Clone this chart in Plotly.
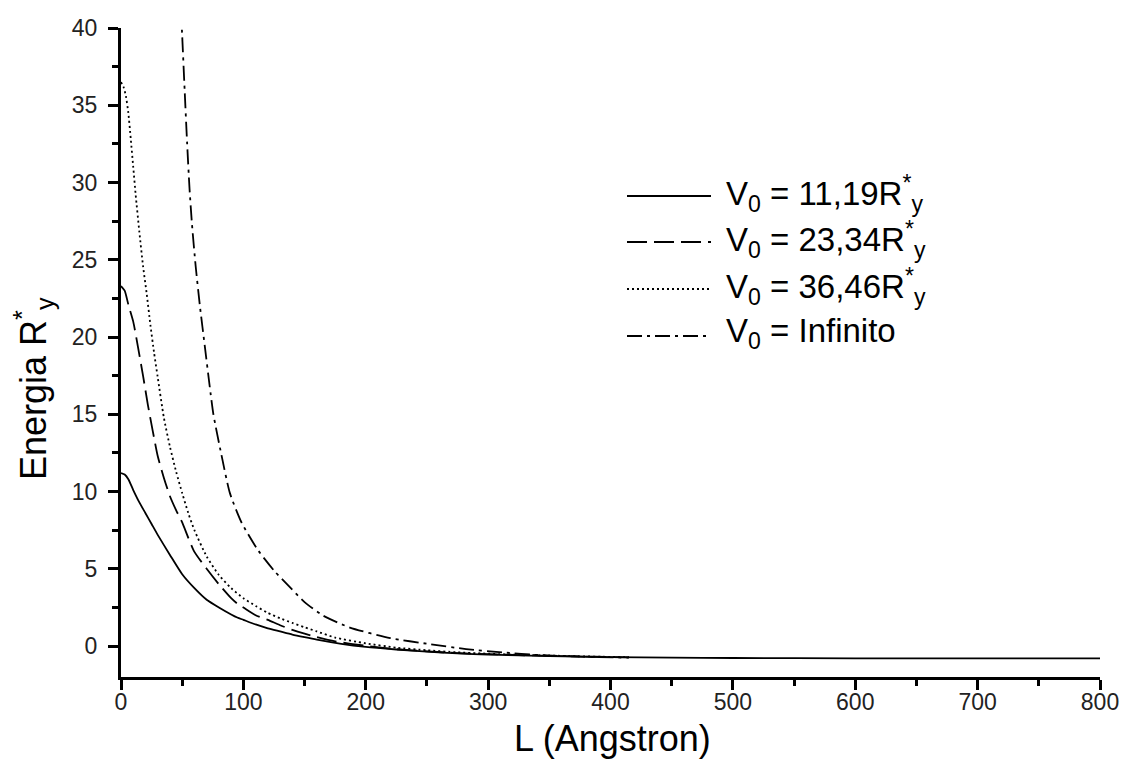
import plotly.graph_objects as go

# ---- data ----
L_v1119 = [0, 3, 6, 10, 15, 20, 25, 30, 40, 50, 60, 70, 80, 90, 95, 100, 110, 120, 130, 140,
           150, 160, 180, 200, 225, 250, 275, 300, 350, 400, 450, 500, 600, 700, 800]
E_v1119 = [11.2, 11.1, 10.8, 10.1, 9.3, 8.6, 7.9, 7.2, 5.9, 4.65, 3.75, 3.0, 2.5, 2.05, 1.85, 1.7,
           1.4, 1.15, 0.95, 0.75, 0.58, 0.42, 0.15, -0.05, -0.22, -0.36, -0.47, -0.55, -0.65,
           -0.71, -0.75, -0.77, -0.79, -0.8, -0.8]

L_v2334 = [0, 3, 6, 10, 14, 18, 22, 26, 30, 35, 40, 45, 50, 55, 60, 70, 80, 90, 95, 100, 110,
           120, 130, 140, 150, 160, 175, 200, 225, 250, 275, 300, 325, 350, 375, 400, 415]
E_v2334 = [23.3, 23.0, 22.1, 21.0, 19.3, 17.5, 15.6, 13.9, 12.3, 10.9, 9.7, 8.8, 8.0, 7.0, 6.1,
           5.0, 4.0, 3.1, 2.75, 2.5, 2.0, 1.7, 1.35, 1.05, 0.8, 0.58, 0.3, 0.02, -0.2, -0.34,
           -0.45, -0.52, -0.58, -0.63, -0.67, -0.71, -0.73]

L_v3646 = [0, 2, 4, 6, 8, 10, 12, 15, 18, 21, 24, 27, 30, 35, 40, 45, 50, 55, 60, 70, 80, 90,
           100, 110, 120, 130, 140, 150, 160, 175, 200, 225, 250, 275, 300, 325, 350, 375, 400, 415]
E_v3646 = [36.5, 36.2, 35.6, 34.5, 32.8, 31.0, 29.2, 26.8, 24.6, 22.8, 20.8, 19.0, 17.4, 14.8,
           12.9, 11.3, 9.9, 8.6, 7.5, 5.8, 4.6, 3.75, 3.1, 2.6, 2.15, 1.8, 1.5, 1.22, 0.95, 0.55,
           0.18, -0.1, -0.27, -0.4, -0.49, -0.56, -0.61, -0.66, -0.7, -0.72]

L_inf = [48, 50, 52, 54, 56, 58, 61, 64.5, 68.5, 72.5, 75.5, 82, 89, 98.5, 112, 126, 137, 150,
         165, 187, 220, 252, 282, 312, 342, 375, 415]
E_inf = [43, 39.5, 36.0, 32.6, 29.6, 27.3, 24.6, 22.0, 19.4, 16.8, 15.0, 12.4, 9.9, 8.0, 6.2,
         4.8, 3.9, 2.85, 1.98, 1.2, 0.52, 0.13, -0.19, -0.41, -0.58, -0.68, -0.75]

series_names = ["V<sub>0</sub> = 11,19R<sup>*</sup><sub>y</sub>",
                "V<sub>0</sub> = 23,34R<sup>*</sup><sub>y</sub>",
                "V<sub>0</sub> = 36,46R<sup>*</sup><sub>y</sub>",
                "V<sub>0</sub> = Infinito"]
series_dash = ["solid", "20px,7px", "2px,3px", "15px,5px,3px,5px"]

x_ticks = [0, 100, 200, 300, 400, 500, 600, 700, 800]
y_ticks = [0, 5, 10, 15, 20, 25, 30, 35, 40]
x_title = "L (Angstron)"
y_title = "Energia R<sup>*</sup><sub>y</sub>"

FONT = "Liberation Sans, Arial, sans-serif"

fig = go.Figure()
for xs, ys, name, dash in zip([L_v1119, L_v2334, L_v3646, L_inf],
                              [E_v1119, E_v2334, E_v3646, E_inf],
                              series_names, series_dash):
    fig.add_trace(go.Scatter(x=xs, y=ys, mode="lines", name=name, showlegend=False,
                             line=dict(color="black", width=1.8, dash=dash,
                                       shape="spline", smoothing=0.6)))

# manual legend (long line samples as in the reference)
plot_l, plot_r, plot_t, plot_b = 121, 1100, 28, 677
def px2paper(px, py):
    return (px - plot_l) / (plot_r - plot_l), (plot_b - py) / (plot_b - plot_t)

legend_rows = [196, 242, 289, 336]
for row, name, dash in zip(legend_rows, series_names, series_dash):
    x0, y0 = px2paper(627, row)
    x1, _ = px2paper(711, row)
    fig.add_shape(type="line", xref="paper", yref="paper", x0=x0, x1=x1, y0=y0, y1=y0,
                  line=dict(color="black", width=1.8, dash=dash))
    tx, ty = px2paper(724, row - 3)
    fig.add_annotation(xref="paper", yref="paper", x=tx, y=ty, text=name, showarrow=False,
                       xanchor="left", yanchor="middle",
                       font=dict(family=FONT, size=33, color="black"))

# axis titles as annotations for exact placement
tx, ty = px2paper(612, 738)
fig.add_annotation(xref="paper", yref="paper", x=tx, y=ty, text=x_title, showarrow=False,
                   xanchor="center", yanchor="middle",
                   font=dict(family=FONT, size=36, color="black"))
tx, ty = px2paper(33, 389)
fig.add_annotation(xref="paper", yref="paper", x=tx, y=ty, text=y_title, showarrow=False,
                   xanchor="center", yanchor="middle", textangle=-90,
                   font=dict(family=FONT, size=36, color="black"))

axis_common = dict(showline=True, linecolor="black", linewidth=3, ticks="outside",
                   tickcolor="black", tickwidth=2.5, ticklen=10, showgrid=False,
                   zeroline=False, mirror=False, automargin=False,
                   tickfont=dict(family=FONT, size=23, color="#222222"))

fig.update_xaxes(range=[0, 800], tickvals=x_ticks, ticklabelstandoff=-8,
                 minor=dict(ticks="outside", ticklen=6, dtick=50, tick0=0,
                            tickcolor="black", tickwidth=2.5, showgrid=False),
                 **axis_common)
fig.update_yaxes(range=[-2, 40], tickvals=y_ticks, ticklabelstandoff=6,
                 minor=dict(ticks="outside", ticklen=6, dtick=2.5, tick0=0,
                            tickcolor="black", tickwidth=2.5, showgrid=False),
                 **axis_common)

fig.update_layout(width=1123, height=780, autosize=False,
                  margin=dict(l=plot_l, r=1123 - plot_r, t=plot_t, b=780 - plot_b, pad=0),
                  paper_bgcolor="white", plot_bgcolor="white",
                  font=dict(family=FONT, color="black"))

fig.write_html("out.html")
